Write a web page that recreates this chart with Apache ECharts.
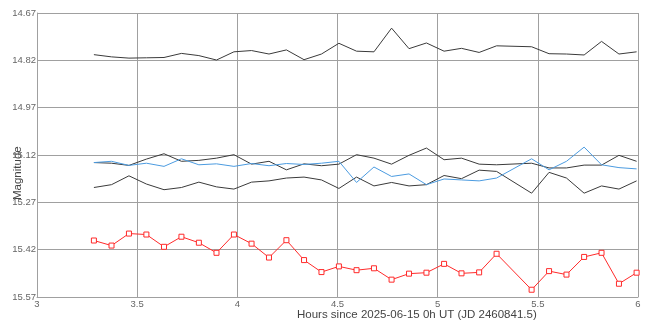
<!DOCTYPE html>
<html>
<head>
<meta charset="utf-8">
<script src="https://cdn.jsdelivr.net/npm/echarts@6/dist/echarts.min.js"></script>
<style>
  html, body { margin: 0; padding: 0; background: #fff; }
  #chart { width: 655px; height: 325px; }
</style>
</head>
<body>
<div id="chart"></div>
<script>
// Observation times, hours since 2025-06-15 0h UT
const hours = [3.284, 3.372, 3.459, 3.546, 3.634, 3.721, 3.808, 3.896, 3.983, 4.071,
               4.158, 4.245, 4.333, 4.420, 4.507, 4.595, 4.682, 4.770, 4.857, 4.944,
               5.032, 5.119, 5.207, 5.294, 5.469, 5.556, 5.643, 5.731, 5.818, 5.905, 5.993];

// Magnitudes per star
const checkTop = [14.802, 14.809, 14.813, 14.812, 14.811, 14.798, 14.805, 14.819, 14.793, 14.789,
                  14.800, 14.787, 14.818, 14.800, 14.766, 14.791, 14.793, 14.718, 14.783, 14.765,
                  14.791, 14.782, 14.795, 14.774, 14.777, 14.799, 14.800, 14.803, 14.760, 14.800, 14.793];
const checkMid = [15.144, 15.146, 15.153, 15.133, 15.116, 15.140, 15.137, 15.130, 15.119, 15.149,
                  15.140, 15.167, 15.148, 15.154, 15.149, 15.119, 15.130, 15.149, 15.121, 15.098,
                  15.135, 15.130, 15.149, 15.151, 15.146, 15.161, 15.161, 15.152, 15.152, 15.121, 15.140];
const checkLow = [15.223, 15.214, 15.186, 15.212, 15.230, 15.223, 15.206, 15.221, 15.228, 15.206,
                  15.202, 15.193, 15.190, 15.199, 15.226, 15.190, 15.218, 15.207, 15.218, 15.214,
                  15.185, 15.195, 15.168, 15.172, 15.241, 15.175, 15.193, 15.241, 15.218, 15.228, 15.202];
const compStar = [15.144, 15.140, 15.153, 15.146, 15.156, 15.132, 15.151, 15.148, 15.156, 15.147,
                  15.154, 15.147, 15.150, 15.146, 15.140, 15.207, 15.158, 15.188, 15.180, 15.214,
                  15.196, 15.199, 15.202, 15.193, 15.132, 15.167, 15.140, 15.095, 15.151, 15.160, 15.164];
const target = [15.391, 15.407, 15.369, 15.372, 15.411, 15.379, 15.398, 15.430, 15.372, 15.401,
                15.445, 15.390, 15.453, 15.491, 15.473, 15.485, 15.479, 15.515, 15.496, 15.493,
                15.465, 15.495, 15.492, 15.433, 15.547, 15.488, 15.499, 15.443, 15.430, 15.528, 15.493];

const xTitle = 'Hours since 2025-06-15 0h UT (JD 2460841.5)';
const yTitle = 'Magnitude';

const pairs = arr => hours.map((h, i) => [h, arr[i]]);

const gridColor = '#a0a0a0';
const lineSeries = (name, arr, color) => ({
  name, type: 'line', data: pairs(arr), showSymbol: false, symbol: 'none',
  lineStyle: { color, width: 1 }, itemStyle: { color }, animation: false
});

const chart = echarts.init(document.getElementById('chart'), null, { renderer: 'canvas' });
chart.setOption({
  animation: false,
  grid: { left: 37, right: 17, top: 13, bottom: 28, containLabel: false },
  xAxis: {
    type: 'value', min: 3, max: 6, interval: 0.5,
    axisLine: { show: true, lineStyle: { color: gridColor, width: 1 } },
    axisTick: { show: false },
    splitLine: { show: true, lineStyle: { color: gridColor, width: 1 } },
    axisLabel: { color: '#666', fontSize: 9.5, fontFamily: 'Liberation Sans, Arial, sans-serif', margin: 2 }
  },
  yAxis: {
    type: 'value', inverse: true, min: 14.67, max: 15.57, interval: 0.15,
    axisLine: { show: true, lineStyle: { color: gridColor, width: 1 } },
    axisTick: { show: false },
    splitLine: { show: true, lineStyle: { color: gridColor, width: 1 } },
    axisLabel: { color: '#666', fontSize: 9.5, fontFamily: 'Liberation Sans, Arial, sans-serif', margin: 1,
                 formatter: v => v.toFixed(2) }
  },
  graphic: [
    { type: 'text', left: 297, top: 309,
      style: { text: xTitle, fill: '#444', font: '11.5px "Liberation Sans", Arial, sans-serif' } },
    { type: 'text', x: 12, y: 200, rotation: Math.PI / 2,
      style: { text: yTitle, fill: '#444', font: '11.5px "Liberation Sans", Arial, sans-serif' } }
  ],
  series: [
    lineSeries('check 1', checkTop, '#3a3a3a'),
    lineSeries('check 2', checkMid, '#3a3a3a'),
    lineSeries('check 3', checkLow, '#3a3a3a'),
    lineSeries('comparison', compStar, '#4b9be0'),
    {
      name: 'target', type: 'line', data: pairs(target),
      symbol: 'rect', symbolSize: 5, showSymbol: true,
      lineStyle: { color: '#ff2a2a', width: 1 },
      itemStyle: { color: '#fff', borderColor: '#ff2a2a', borderWidth: 1 },
      animation: false
    }
  ]
});
</script>
</body>
</html>
